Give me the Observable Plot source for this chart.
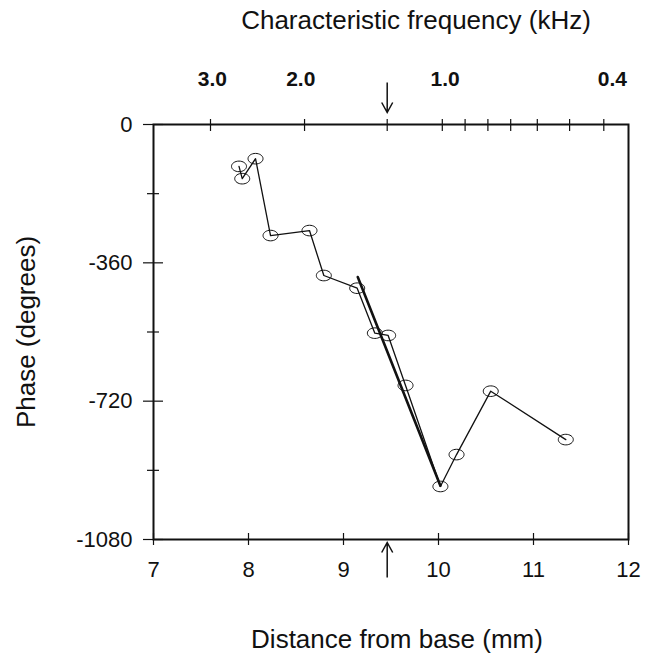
<!DOCTYPE html>
<html>
<head>
<meta charset="utf-8">
<script src="https://cdn.jsdelivr.net/npm/d3@7"></script>
<script src="https://cdn.jsdelivr.net/npm/@observablehq/plot@0.6"></script>
<style>
  html, body { margin: 0; padding: 0; background: #fff; }
  svg { display: block; }
</style>
</head>
<body>
<div id="chart"></div>
<script>
// Measured points: distance from base (mm) and phase (degrees)
const distance = [7.90, 7.934, 8.074, 8.232, 8.642, 8.793, 9.144, 9.33, 9.47, 9.653, 10.02, 10.19, 10.55, 11.34];
const phase    = [-109, -141, -89, -289, -276, -393, -426, -543, -549, -679, -942, -859, -694, -820];

// Fitted line (thick)
const fitDistance = [9.15, 10.02];
const fitPhase    = [-397, -940];

// Axis ticks
const xTicks = [7, 8, 9, 10, 11, 12];
const yMajor = [0, -360, -720, -1080];
const yMinor = [-180, -540, -900];

// Top (characteristic frequency) axis: tick positions in mm
const freqTickMm = [7.60, 8.59, 9.46, 10.04, 10.28, 10.52, 10.76, 11.04, 11.38, 11.74];
const freqLabels = ["3.0", "2.0", "1.0", "0.4"];
const freqLabelMm = [7.62, 8.55, 10.07, 11.83];

// Characteristic place arrows
const cfPlace = [9.46];

const points = distance.map((d, i) => ({d, p: phase[i]}));
const fit = fitDistance.map((d, i) => ({d, p: fitPhase[i]}));
const topLabels = freqLabels.map((t, i) => ({t, x: freqLabelMm[i]}));

const ellipse = {
  draw(ctx) {
    const rx = 7.5, ry = 5.3, k = 0.5523;
    ctx.moveTo(rx, 0);
    ctx.bezierCurveTo(rx, ry * k, rx * k, ry, 0, ry);
    ctx.bezierCurveTo(-rx * k, ry, -rx, ry * k, -rx, 0);
    ctx.bezierCurveTo(-rx, -ry * k, -rx * k, -ry, 0, -ry);
    ctx.bezierCurveTo(rx * k, -ry, rx, -ry * k, rx, 0);
    ctx.closePath();
  }
};
// arrow symbols drawn from the tip
const arrowDown = {
  draw(ctx) {
    ctx.moveTo(0, -30); ctx.lineTo(0, 0);
    ctx.moveTo(-5.5, -10); ctx.lineTo(0, 0); ctx.lineTo(5.5, -10);
  }
};
const arrowUp = {
  draw(ctx) {
    ctx.moveTo(0, 35); ctx.lineTo(0, 0);
    ctx.moveTo(-5.5, 10); ctx.lineTo(0, 0); ctx.lineTo(5.5, 10);
  }
};

const font = "'Liberation Sans', Arial, Helvetica, sans-serif";

const chart = Plot.plot({
  width: 646,
  height: 660,
  marginLeft: 153,
  marginRight: 18,
  marginTop: 124,
  marginBottom: 121,
  style: {fontFamily: font, color: "#111", background: "#fff", overflow: "visible"},
  x: {domain: [7, 12]},
  y: {domain: [-1080, 0]},
  marks: [
    Plot.axisX({anchor: "bottom", ticks: xTicks, tickSize: 12, dy: -6, tickFormat: () => "", label: null, strokeWidth: 1.2}),
    Plot.axisX({anchor: "bottom", ticks: xTicks, tickSize: 0, tickPadding: 22, fontSize: 22, label: null, tickFormat: d => String(d)}),
    Plot.axisX({anchor: "top", ticks: freqTickMm, tickSize: 12, dy: 6, tickFormat: () => "", label: null, strokeWidth: 1.2}),
    Plot.axisY({anchor: "left", ticks: yMajor, tickSize: 20, dx: 10, tickFormat: () => "", label: null, strokeWidth: 1.2}),
    Plot.axisY({anchor: "left", ticks: yMinor, tickSize: 12, dx: 6, tickFormat: () => "", label: null, strokeWidth: 1.2}),
    Plot.axisY({anchor: "left", ticks: yMajor, tickSize: 0, tickPadding: 21, fontSize: 22, label: null, tickFormat: d => String(d)}),
    Plot.text(topLabels, {x: "x", text: "t", frameAnchor: "top", lineAnchor: "middle", dy: -45, fontSize: 21, fontWeight: "bold"}),
    Plot.dot(cfPlace, {x: d => d, frameAnchor: "top", dy: -12, symbol: arrowDown, fill: "none", stroke: "#111", strokeWidth: 1.5}),
    Plot.dot(cfPlace, {x: d => d, frameAnchor: "bottom", dy: 3, symbol: arrowUp, fill: "none", stroke: "#111", strokeWidth: 1.5}),
    Plot.frame({stroke: "#111", strokeWidth: 2}),
    Plot.line(points, {x: "d", y: "p", stroke: "#111", strokeWidth: 1.3}),
    Plot.line(fit, {x: "d", y: "p", stroke: "#111", strokeWidth: 2.6}),
    Plot.dot(points, {x: "d", y: "p", symbol: ellipse, fill: "none", stroke: "#111", strokeWidth: 1}),
    Plot.text(["Characteristic frequency (kHz)"], {frameAnchor: "top", lineAnchor: "middle", dy: -104, dx: 25, fontSize: 26}),
    Plot.text(["Distance from base (mm)"], {frameAnchor: "bottom", lineAnchor: "middle", dy: 100, dx: 6, fontSize: 26}),
    Plot.text(["Phase (degrees)"], {frameAnchor: "left", textAnchor: "middle", lineAnchor: "middle", rotate: -90, dx: -127, fontSize: 26})
  ]
});

document.getElementById("chart").appendChild(chart);
</script>
</body>
</html>
